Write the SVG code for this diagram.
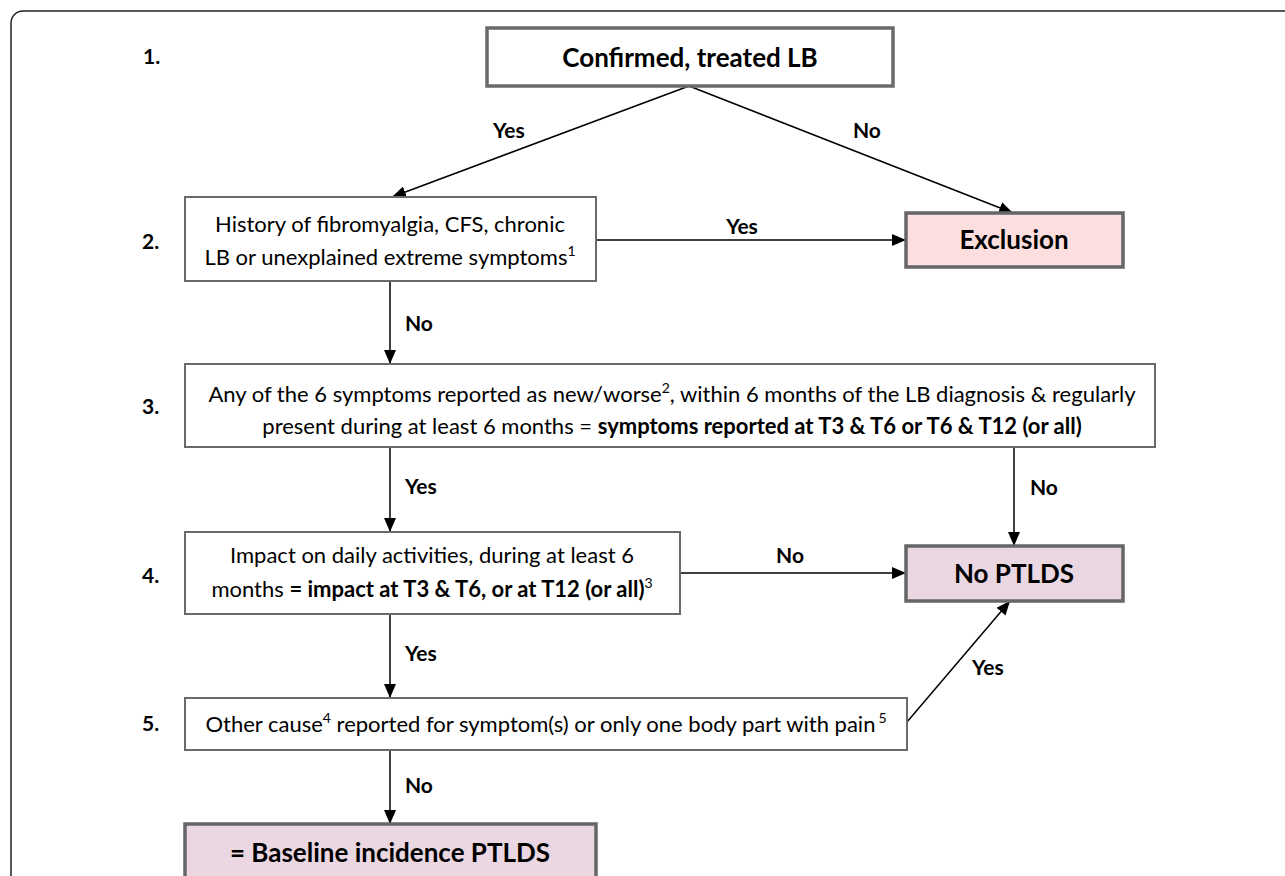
<svg xmlns="http://www.w3.org/2000/svg" width="1285" height="876" viewBox="0 0 1285 876">
<style>
text{font-family:Lato,"Open Sans","Liberation Sans",sans-serif;fill:#000}
.box{fill:#fff;stroke:#6a6a6a;stroke-width:2}
.tbox{fill:#fff;stroke:#6a6a6a;stroke-width:3.5}
.excl{fill:#fddede;stroke:#666;stroke-width:3.5}
.ptl{fill:#ead7e1;stroke:#666;stroke-width:3.5}
.t{font-size:22px;text-anchor:middle}
.big{font-size:26px;font-weight:bold;text-anchor:middle}
.num{font-size:21px;font-weight:bold}
.lbl{font-size:21px;font-weight:bold}
.b{font-weight:bold}
.sup{font-size:14px}
.c{stroke:#000;stroke-width:1.5;fill:none}
</style>
<defs>
<marker id="ah" viewBox="0 0 14 12" refX="14" refY="6" markerWidth="14" markerHeight="12" markerUnits="userSpaceOnUse" orient="auto">
<path d="M0,0 L14,6 L0,12 z" fill="#000"/>
</marker>
</defs>
<rect x="11" y="11" width="1300" height="900" rx="12" fill="none" stroke="#222" stroke-width="1.5"/>
<g id="steps">
<text class="num" x="143" y="64">1.</text>
<text class="num" x="142" y="249">2.</text>
<text class="num" x="142" y="414">3.</text>
<text class="num" x="142" y="583">4.</text>
<text class="num" x="142" y="731">5.</text>
</g>
<g id="connectors">
<path class="c" d="M689,86 L392,197" marker-end="url(#ah)"/>
<path class="c" d="M689,86 L1013,213" marker-end="url(#ah)"/>
<path class="c" d="M596,240 L906,240" marker-end="url(#ah)"/>
<path class="c" d="M390,281 L390,364" marker-end="url(#ah)"/>
<path class="c" d="M390,447 L390,532" marker-end="url(#ah)"/>
<path class="c" d="M1014,447 L1014,546" marker-end="url(#ah)"/>
<path class="c" d="M680,573 L906,573" marker-end="url(#ah)"/>
<path class="c" d="M390,614 L390,698" marker-end="url(#ah)"/>
<path class="c" d="M907,722 L1010,601" marker-end="url(#ah)"/>
<path class="c" d="M390,750 L390,824" marker-end="url(#ah)"/>
<text class="lbl" x="493" y="138">Yes</text>
<text class="lbl" x="853" y="138">No</text>
<text class="lbl" x="742" y="234" text-anchor="middle">Yes</text>
<text class="lbl" x="405" y="331">No</text>
<text class="lbl" x="405" y="494">Yes</text>
<text class="lbl" x="1030" y="495">No</text>
<text class="lbl" x="790" y="563" text-anchor="middle">No</text>
<text class="lbl" x="405" y="661">Yes</text>
<text class="lbl" x="972" y="675">Yes</text>
<text class="lbl" x="405" y="793">No</text>
</g>
<g id="n1">
<rect class="tbox" x="487" y="28" width="406" height="58"/>
<text class="big" x="690" y="67">Confirmed, treated LB</text>
</g>
<g id="n2">
<rect class="box" x="185" y="197" width="411" height="84"/>
<text class="t" x="390" y="232">History of fibromyalgia, CFS, chronic</text>
<text class="t" x="390" y="265">LB or unexplained extreme symptoms<tspan class="sup" dy="-9">1</tspan></text>
</g>
<g id="excl">
<rect class="excl" x="906" y="213" width="217" height="54"/>
<text class="big" x="1014" y="249">Exclusion</text>
</g>
<g id="n3">
<rect class="box" x="185" y="364" width="970" height="83"/>
<text class="t" x="672" y="402">Any of the 6 symptoms reported as new/worse<tspan class="sup" dy="-9">2</tspan><tspan dy="9">, within 6 months of the LB diagnosis &amp; regularly</tspan></text>
<text class="t" x="672" y="434">present during at least 6 months = <tspan class="b">symptoms reported at T3 &amp; T6 or T6 &amp; T12 (or all)</tspan></text>
</g>
<g id="n4">
<rect class="box" x="185" y="532" width="495" height="82"/>
<text class="t" x="432" y="563">Impact on daily activities, during at least 6</text>
<text class="t" x="432" y="597">months <tspan class="b">= impact at T3 &amp; T6, or at T12 (or all)</tspan><tspan class="sup" dy="-9">3</tspan></text>
</g>
<g id="noptlds">
<rect class="ptl" x="906" y="546" width="217" height="55"/>
<text class="big" x="1014" y="583">No PTLDS</text>
</g>
<g id="n5">
<rect class="box" x="185" y="698" width="722" height="52"/>
<text class="t" x="546" y="732">Other cause<tspan class="sup" dy="-9">4</tspan><tspan dy="9"> reported for symptom(s) or only one body part with pain</tspan><tspan class="sup" dy="-9" dx="3">5</tspan></text>
</g>
<g id="baseline">
<rect class="ptl" x="185" y="824" width="411" height="60"/>
<text class="big" x="390" y="862">= Baseline incidence PTLDS</text>
</g>
</svg>
